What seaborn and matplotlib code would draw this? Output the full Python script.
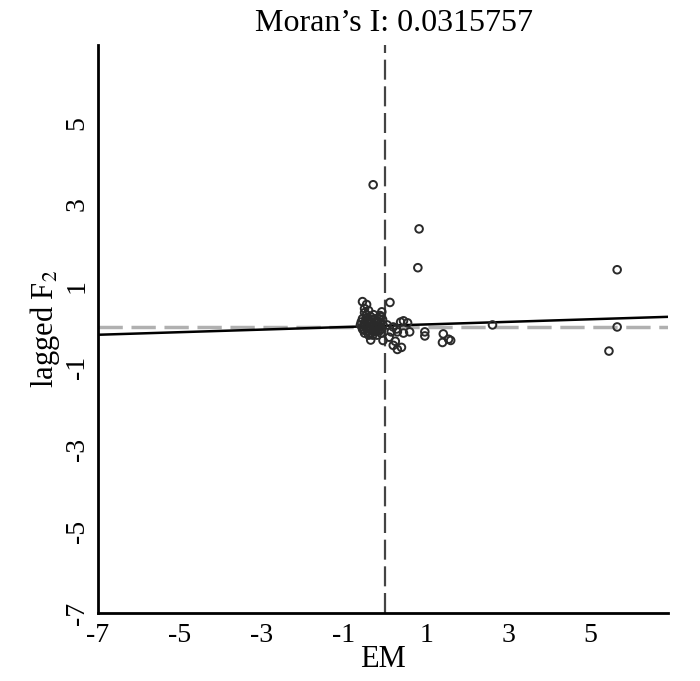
import numpy as np
import pandas as pd
import matplotlib
matplotlib.use("Agg")
import matplotlib.pyplot as plt
import seaborn as sns

# ---- data ----
em_values = [-0.29, 0.83, 0.80, 5.66, 5.66, 5.46, 2.62, 0.97, 0.97, 1.42, 1.55, 1.40, 1.60,
             0.12, -0.55, -0.45, -0.50, -0.08, -0.10, 0.45, 0.38, 0.55,
             0.15, 0.30, 0.45, 0.60, 0.20, 0.30, 0.40, 0.25, -0.35, -0.05, 0.05, 0.10,
             -0.55, -0.50, -0.45, -0.55, -0.40, -0.35, -0.30, -0.25, -0.20, -0.15,
             -0.10, -0.05, -0.50, -0.40, -0.30, -0.20, -0.15, -0.45, -0.60, -0.35,
             -0.25, -0.10, -0.50, -0.42, -0.28, -0.18, -0.08, -0.55, -0.32, -0.12,
             -0.48, -0.38, -0.22, -0.52, -0.44, -0.33, -0.27, -0.17, -0.06, -0.58,
             -0.46, -0.36, -0.24, -0.14, -0.40, -0.30, 0.20, 0.28]
lagged_values = [3.48, 2.40, 1.45, 1.40, 0.00, -0.59, 0.05, -0.12, -0.22, -0.17, -0.30, -0.38, -0.33,
                 0.60, 0.62, 0.55, 0.45, 0.37, 0.25, 0.15, 0.12, 0.10,
                 -0.12, -0.12, -0.15, -0.12, -0.45, -0.55, -0.50, -0.35, -0.32, -0.33, 0.05, -0.25,
                 0.20, 0.10, 0.00, -0.05, 0.15, 0.25, 0.05, -0.10, 0.10, 0.00,
                 -0.15, 0.05, -0.15, -0.20, -0.20, -0.20, 0.20, 0.30, 0.05, -0.05,
                 0.20, 0.10, 0.35, -0.10, 0.30, -0.08, -0.05, 0.00, 0.12, 0.28,
                 0.05, 0.08, 0.02, -0.08, -0.02, 0.18, -0.12, 0.14, 0.18, 0.12,
                 0.22, -0.15, -0.02, -0.10, 0.40, 0.00, 0.00, -0.05]
morans_i = 0.0315757
fit_intercept = 0.03
x_ticks = [-7, -5, -3, -1, 1, 3, 5]
y_ticks = [-7, -5, -3, -1, 1, 3, 5]
x_lim = (-7, 6.9)
y_lim = (-7, 6.9)

df = pd.DataFrame({"EM": em_values, "lagged": lagged_values})
fit_x = np.array(x_lim)
fit_df = pd.DataFrame({"x": fit_x, "y": fit_intercept + morans_i * fit_x})

sns.set_style("white")
plt.rcParams["font.family"] = ["Liberation Serif", "DejaVu Serif"]
plt.rcParams["mathtext.fontset"] = "stix"
plt.rcParams["text.color"] = "black"
plt.rcParams["axes.labelcolor"] = "black"
plt.rcParams["xtick.color"] = "black"
plt.rcParams["ytick.color"] = "black"

fig = plt.figure(figsize=(7.0, 6.81), dpi=100)
ax = fig.add_axes([98 / 700, 68 / 681, 570 / 700, 568 / 681])

ax.axhline(0, color="#b0b0b0", lw=2.5, ls=(0, (7, 2.5)), zorder=1)
ax.axvline(0, color="#444444", lw=1.6, ls=(0, (9, 3)), zorder=1)

sns.scatterplot(data=df, x="EM", y="lagged", ax=ax, marker="o", s=30,
                facecolor="none", edgecolor="#2a2a2a", linewidth=1.4, zorder=3)
sns.lineplot(data=fit_df, x="x", y="y", ax=ax, color="black", lw=1.8, zorder=2)

ax.set_xlim(*x_lim)
ax.set_ylim(*y_lim)
ax.set_xticks(x_ticks)
ax.set_yticks(y_ticks)
ax.set_xticklabels([str(t) for t in x_ticks], fontsize=20, color="black")
ax.set_yticklabels([str(t) for t in y_ticks], fontsize=20, rotation=90, va="center", color="black")
ax.tick_params(axis="x", direction="out", length=7, width=2, pad=0, color="black")
ax.tick_params(axis="y", direction="out", length=4, width=2, pad=2, color="#555555")
for side in ["top", "right"]:
    ax.spines[side].set_visible(False)
for side in ["left", "bottom"]:
    ax.spines[side].set_color("black")
    ax.spines[side].set_linewidth(2)

ax.set_xlabel("EM", fontsize=22, labelpad=-2, color="black")
ax.set_ylabel("lagged F$_2$", fontsize=22, labelpad=2, color="black")
ax.set_title("Moran\u2019s I: 0.0315757", fontsize=23, x=0.52, pad=10, color="black")

fig.savefig("out.png", dpi=100, facecolor="white")
